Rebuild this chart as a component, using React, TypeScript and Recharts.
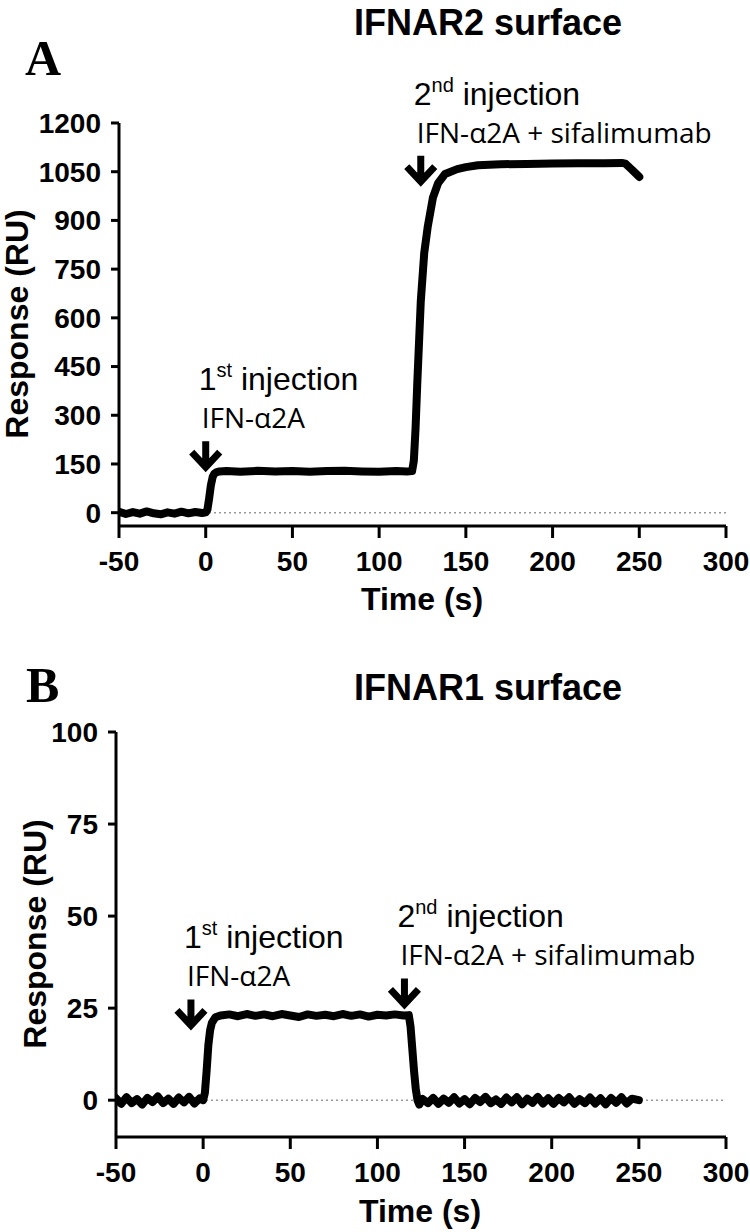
import React from "react"
import { LineChart, Line, XAxis, YAxis, ReferenceLine, ReferenceDot } from "recharts"

// shared axis ticks
const xTicks = [-50, 0, 50, 100, 150, 200, 250, 300]
const yTicksA = [0, 150, 300, 450, 600, 750, 900, 1050, 1200]
const yTicksB = [0, 25, 50, 75, 100]

// panel A: IFNAR2 surface (time s, response RU)
const timeA = [-50, -46, -42, -38, -34, -30, -26, -22, -18, -14, -10, -6, -2, 0, 1, 2, 3, 4, 5, 6, 8, 12, 20, 30, 40, 50, 60, 70, 80, 90, 100, 110, 116, 119, 120, 121, 122, 124, 126, 128, 131, 134, 138, 145, 150, 157, 170, 185, 200, 215, 230, 240, 242, 246, 250]
const respA = [3, -4, 2, -3, 4, -2, -5, 1, -3, 3, -2, 2, -1, 1, 10, 45, 85, 110, 120, 124, 127, 128, 126, 129, 127, 128, 126, 128, 129, 127, 126, 128, 127, 128, 160, 260, 400, 650, 800, 880, 970, 1015, 1043, 1058, 1064, 1070, 1073, 1074, 1075, 1076, 1076, 1077, 1075, 1055, 1034]

// panel B: IFNAR1 surface
const timeB = [-50, -47, -44, -41, -38, -35, -32, -29, -26, -23, -20, -17, -14, -11, -8, -5, -2, 0, 1, 2, 3, 4, 5, 7, 10, 15, 20, 25, 30, 35, 40, 45, 50, 55, 60, 65, 70, 75, 80, 85, 90, 95, 100, 105, 110, 115, 118, 119, 120, 121, 122, 123, 124, 126, 129, 132, 135, 138, 141, 144, 147, 150, 153, 156, 159, 162, 165, 168, 171, 174, 177, 180, 183, 186, 189, 192, 195, 198, 201, 204, 207, 210, 213, 216, 219, 222, 225, 228, 231, 234, 237, 240, 243, 246, 250]
const respB = [0.5, -1.0, 0.8, -0.8, 0.3, -1.2, 0.6, -0.5, 1.0, -0.8, 0.4, -1.0, 0.7, -0.6, 0.9, -0.9, 0.5, 0, 2, 8, 15, 19, 21, 22.5, 23, 23.3, 22.8, 23.4, 22.9, 23.3, 22.8, 23.4, 23.0, 22.6, 23.3, 22.9, 23.2, 22.8, 23.4, 22.9, 23.3, 22.7, 23.2, 23.0, 23.3, 23.0, 23.1, 20, 14, 8, 3, 0, -1.2, 0.3, -0.8, 0.6, -1.0, 0.4, -0.7, 0.8, -0.9, 0.3, -1.1, 0.6, -0.5, 0.9, -0.8, 0.2, -1.0, 0.7, -0.6, 0.8, -1.1, 0.4, -0.7, 0.9, -0.9, 0.5, -1.0, 0.6, -0.6, 0.8, -1.0, 0.3, -0.8, 0.7, -0.9, 0.5, -1.1, 0.6, -0.7, 0.8, -0.9, 0.4, 0]

// injection arrows (tip position in data units)
const injOrd = ["1", "2"]
const injSup = ["st", "nd"]
const injAgent = ["IFN-\u03b12A", "IFN-\u03b12A + sifalimumab"]
const markTimeA = [0, 124]
const markRespA = [131, 1010]
const markTimeB = [-7, 115.5]
const markRespB = [19.5, 25.2]

const dataA = timeA.map((t, i) => ({ t, v: respA[i] }))
const dataB = timeB.map((t, i) => ({ t, v: respB[i] }))

const ARIAL = "'Liberation Sans', Arial, sans-serif"
const tickStyle = { fill: "#000", fontSize: 28, fontWeight: "bold", fontFamily: ARIAL }
const axisStroke = { stroke: "#000", strokeWidth: 3 }

const marker = (i: number) => (p: any) => {
  const { cx, cy } = p
  if (cx == null || cy == null) return <g />
  return (
    <g>
      <path
        d={`M${cx},${cy - 29} L${cx},${cy - 3} M${cx - 14},${cy - 18} L${cx},${cy - 3} L${cx + 14},${cy - 18}`}
        stroke="#000" strokeWidth={7} fill="none"
      />
      <text x={cx - 7} y={cy - 80} fontFamily={ARIAL} fontSize={32} fill="#000">
        {injOrd[i]}
        <tspan fontSize={20} dy={-13}>{injSup[i]}</tspan>
        <tspan dy={13}>{" injection"}</tspan>
      </text>
      <text x={cx - 4} y={cy - 42} fontFamily="'Open Sans', sans-serif" fontSize={28} fill="#000">
        {injAgent[i]}
      </text>
    </g>
  )
}

function Panel({ data, yTicks, yDomain, marks, height, top, yWidth }: any) {
  return (
    <div style={{ position: "absolute", left: 0, top, width: 750, height }}>
      <LineChart width={750} height={height} data={data} margin={{ top: top === 0 ? 123 : 112, right: 24, left: 0, bottom: 0 }}>
        <XAxis
          dataKey="t" type="number" domain={[-50, 300]} ticks={xTicks} allowDataOverflow
          height={top === 0 ? 94 : 95} tick={tickStyle} tickSize={12} tickMargin={13}
          axisLine={axisStroke} tickLine={axisStroke} interval={0}
        />
        <YAxis
          type="number" domain={yDomain} ticks={yTicks} allowDataOverflow width={yWidth}
          tick={tickStyle} tickSize={8} tickMargin={10} axisLine={axisStroke} tickLine={axisStroke} interval={0}
        />
        <ReferenceLine y={0} stroke="#999" strokeWidth={1.5} strokeDasharray="2 3" />
        <Line
          dataKey="v" type="linear" stroke="#000" strokeWidth={8} dot={false}
          strokeLinejoin="round" strokeLinecap="round" isAnimationActive={false}
        />
        {marks[0].map((t: number, i: number) => (
          <ReferenceDot key={i} x={t} y={marks[1][i]} r={0} shape={marker(i)} />
        ))}
      </LineChart>
    </div>
  )
}

export default function App() {
  return (
    <div style={{ position: "absolute", left: 0, top: 0, width: 750, height: 1232, background: "#fff" }}>
      <Panel data={dataA} yTicks={yTicksA} yDomain={[-41, 1200]} marks={[markTimeA, markRespA]} height={620} top={0} yWidth={119} />
      <Panel data={dataB} yTicks={yTicksB} yDomain={[-10, 100]} marks={[markTimeB, markRespB]} height={612} top={620} yWidth={116} />
      <svg width={750} height={1232} style={{ position: "absolute", left: 0, top: 0, pointerEvents: "none" }}>
        <text x={488} y={35} textAnchor="middle" fontFamily={ARIAL} fontWeight="bold" fontSize={36}>IFNAR2 surface</text>
        <text x={488} y={700} textAnchor="middle" fontFamily={ARIAL} fontWeight="bold" fontSize={36}>IFNAR1 surface</text>
        <text x={25} y={75} fontFamily="'Liberation Serif', 'Times New Roman', serif" fontWeight="bold" fontSize={50}>A</text>
        <text x={26} y={702} fontFamily="'Liberation Serif', 'Times New Roman', serif" fontWeight="bold" fontSize={50}>B</text>
        <text x={28} y={324} transform="rotate(-90 28 324)" textAnchor="middle" fontFamily={ARIAL} fontWeight="bold" fontSize={32}>Response (RU)</text>
        <text x={46} y={934} transform="rotate(-90 46 934)" textAnchor="middle" fontFamily={ARIAL} fontWeight="bold" fontSize={32}>Response (RU)</text>
        <text x={422} y={610} textAnchor="middle" fontFamily={ARIAL} fontWeight="bold" fontSize={32}>Time (s)</text>
        <text x={420} y={1222} textAnchor="middle" fontFamily={ARIAL} fontWeight="bold" fontSize={32}>Time (s)</text>
      </svg>
    </div>
  )
}
